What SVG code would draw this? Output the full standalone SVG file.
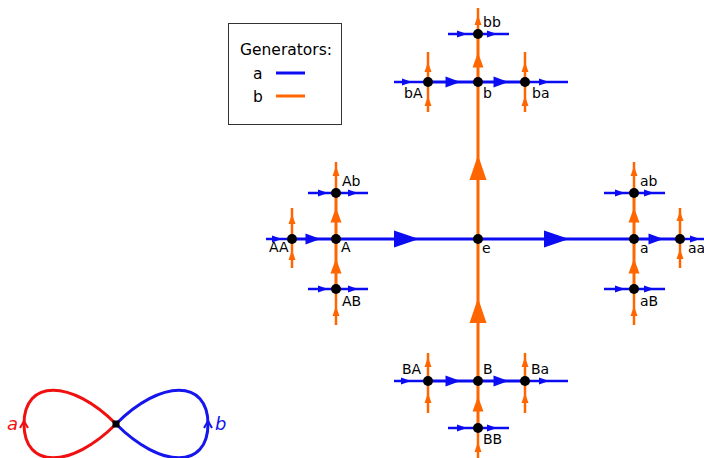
<svg xmlns="http://www.w3.org/2000/svg" xmlns:xlink="http://www.w3.org/1999/xlink" width="704" height="458" viewBox="0 0 704 458">
<style>
.bl{stroke:#0c0cf2;fill:none}
.or{stroke:#ff6600;fill:none}
.e1{stroke-width:3}
.e3{stroke-width:2.5}
.fb{fill:#0c0cf2}
.fo{fill:#ff6600}
.nd{fill:#000}
.lbl{font-family:"DejaVu Sans","Noto Sans",sans-serif;font-size:14px;fill:#000}
.leg{font-family:"DejaVu Sans","Noto Sans",sans-serif;font-size:15.5px;fill:#000}
.it{font-family:"DejaVu Sans","Noto Sans",sans-serif;font-size:18px;font-style:italic}
</style>
<defs>
<path id="LR" class="fb" d="M-12,-8.5 L13,0 L-12,8.5 Z"/>
<path id="LU" class="fo" d="M-8.5,12 L0,-13 L8.5,12 Z"/>
<path id="MR" class="fb" d="M-7.5,-5.5 L7.5,0 L-7.5,5.5 Z"/>
<path id="MU" class="fo" d="M-5.5,7.5 L0,-7.5 L5.5,7.5 Z"/>
<path id="SR" class="fb" d="M-5,-3.5 L5,0 L-5,3.5 Z"/>
<path id="SU" class="fo" d="M-3.5,5 L0,-5 L3.5,5 Z"/>
</defs>
<rect width="704" height="458" fill="#fff"/>

<g id="legend">
<rect x="228.5" y="23.5" width="113" height="101" fill="#fff" stroke="#333" stroke-width="1"/>
<text class="leg" x="240" y="55">Generators:</text>
<text class="leg" x="253" y="79">a</text>
<text class="leg" x="253" y="102">b</text>
<line class="bl" x1="276" y1="73" x2="305" y2="73" stroke-width="3"/>
<line class="or" x1="276" y1="96" x2="305" y2="96" stroke-width="3"/>
</g>

<g id="connectors">
<line class="bl e3" x1="266" y1="239" x2="292" y2="239"/>
<line class="bl e1" x1="292" y1="239" x2="680" y2="239"/>
<line class="bl e3" x1="680" y1="239" x2="704" y2="239"/>
<line class="or e3" x1="478" y1="8" x2="478" y2="34"/>
<line class="or e1" x1="478" y1="34" x2="478" y2="428"/>
<line class="or e3" x1="478" y1="428" x2="478" y2="458"/>
<line class="or e1" x1="336" y1="193" x2="336" y2="289"/>
<line class="or e3" x1="336" y1="162" x2="336" y2="193"/>
<line class="or e3" x1="336" y1="289" x2="336" y2="325"/>
<line class="bl e3" x1="308" y1="193" x2="368" y2="193"/>
<line class="bl e3" x1="308" y1="289" x2="368" y2="289"/>
<line class="or e3" x1="292" y1="208" x2="292" y2="268"/>
<line class="or e1" x1="634" y1="193" x2="634" y2="289"/>
<line class="or e3" x1="634" y1="162" x2="634" y2="193"/>
<line class="or e3" x1="634" y1="289" x2="634" y2="325"/>
<line class="bl e3" x1="604" y1="193" x2="665" y2="193"/>
<line class="bl e3" x1="604" y1="289" x2="665" y2="289"/>
<line class="or e3" x1="680" y1="208" x2="680" y2="268"/>
<line class="bl e1" x1="428" y1="82" x2="525" y2="82"/>
<line class="bl e3" x1="394" y1="82" x2="428" y2="82"/>
<line class="bl e3" x1="525" y1="82" x2="568" y2="82"/>
<line class="or e3" x1="428" y1="52" x2="428" y2="112"/>
<line class="or e3" x1="525" y1="52" x2="525" y2="112"/>
<line class="bl e3" x1="448" y1="34" x2="509" y2="34"/>
<line class="bl e1" x1="428" y1="381" x2="525" y2="381"/>
<line class="bl e3" x1="394" y1="381" x2="428" y2="381"/>
<line class="bl e3" x1="525" y1="381" x2="568" y2="381"/>
<line class="or e3" x1="428" y1="353" x2="428" y2="413"/>
<line class="or e3" x1="525" y1="353" x2="525" y2="413"/>
<line class="bl e3" x1="448" y1="428" x2="509" y2="428"/>

<use href="#LR" x="406" y="239"/>
<use href="#LR" x="556" y="239"/>
<use href="#LU" x="478" y="168"/>
<use href="#LU" x="478" y="311"/>
<use href="#MR" x="313" y="239"/>
<use href="#MR" x="656" y="239"/>
<use href="#MR" x="453" y="82"/>
<use href="#MR" x="501" y="82"/>
<use href="#MR" x="453" y="381"/>
<use href="#MR" x="501" y="381"/>
<use href="#MU" x="336" y="215"/>
<use href="#MU" x="336" y="266"/>
<use href="#MU" x="634" y="215"/>
<use href="#MU" x="634" y="266"/>
<use href="#MU" x="478" y="60"/>
<use href="#MU" x="478" y="404"/>
<use href="#SR" x="277" y="239"/>
<use href="#SR" x="695" y="239"/>
<use href="#SR" x="323" y="193"/>
<use href="#SR" x="353" y="193"/>
<use href="#SR" x="620" y="193"/>
<use href="#SR" x="649" y="193"/>
<use href="#SR" x="323" y="289"/>
<use href="#SR" x="353" y="289"/>
<use href="#SR" x="620" y="289"/>
<use href="#SR" x="649" y="289"/>
<use href="#SR" x="462" y="34"/>
<use href="#SR" x="492" y="34"/>
<use href="#SR" x="462" y="428"/>
<use href="#SR" x="492" y="428"/>
<use href="#SR" x="407" y="82"/>
<use href="#SR" x="544" y="82"/>
<use href="#SR" x="406" y="381"/>
<use href="#SR" x="544" y="381"/>
<use href="#SU" x="292" y="219"/>
<use href="#SU" x="292" y="255"/>
<use href="#SU" x="680" y="216"/>
<use href="#SU" x="680" y="254"/>
<use href="#SU" x="336" y="171"/>
<use href="#SU" x="336" y="311"/>
<use href="#SU" x="634" y="171"/>
<use href="#SU" x="634" y="311"/>
<use href="#SU" x="478" y="20"/>
<use href="#SU" x="478" y="447"/>
<use href="#SU" x="428" y="67"/>
<use href="#SU" x="428" y="101"/>
<use href="#SU" x="525" y="67"/>
<use href="#SU" x="525" y="101"/>
<use href="#SU" x="428" y="362"/>
<use href="#SU" x="428" y="398"/>
<use href="#SU" x="525" y="362"/>
<use href="#SU" x="525" y="398"/>
</g>

<g id="node-e"><circle class="nd" cx="478" cy="239" r="5"/><text class="lbl" x="482" y="253">e</text></g>
<g id="node-a"><circle class="nd" cx="634" cy="239" r="5"/><text class="lbl" x="640" y="253">a</text></g>
<g id="node-A"><circle class="nd" cx="336" cy="239" r="5"/><text class="lbl" x="341" y="252">A</text></g>
<g id="node-b"><circle class="nd" cx="478" cy="82" r="5"/><text class="lbl" x="483" y="98">b</text></g>
<g id="node-B"><circle class="nd" cx="478" cy="381" r="5"/><text class="lbl" x="483" y="374">B</text></g>
<g id="node-aa"><circle class="nd" cx="680" cy="239" r="5"/><text class="lbl" x="688" y="253">aa</text></g>
<g id="node-ab"><circle class="nd" cx="634" cy="193" r="5"/><text class="lbl" x="640" y="186">ab</text></g>
<g id="node-aB"><circle class="nd" cx="634" cy="289" r="5"/><text class="lbl" x="640" y="306">aB</text></g>
<g id="node-AA"><circle class="nd" cx="292" cy="239" r="5"/><text class="lbl" x="269" y="252">AA</text></g>
<g id="node-Ab"><circle class="nd" cx="336" cy="193" r="5"/><text class="lbl" x="342" y="186">Ab</text></g>
<g id="node-AB"><circle class="nd" cx="336" cy="289" r="5"/><text class="lbl" x="342" y="306">AB</text></g>
<g id="node-bb"><circle class="nd" cx="478" cy="34" r="5"/><text class="lbl" x="483" y="27">bb</text></g>
<g id="node-bA"><circle class="nd" cx="428" cy="82" r="5"/><text class="lbl" x="404" y="98">bA</text></g>
<g id="node-ba"><circle class="nd" cx="525" cy="82" r="5"/><text class="lbl" x="532" y="98">ba</text></g>
<g id="node-BB"><circle class="nd" cx="478" cy="428" r="5"/><text class="lbl" x="483" y="444">BB</text></g>
<g id="node-BA"><circle class="nd" cx="428" cy="381" r="5"/><text class="lbl" x="402" y="374">BA</text></g>
<g id="node-Ba"><circle class="nd" cx="525" cy="381" r="5"/><text class="lbl" x="531" y="374">Ba</text></g>

<g id="rose">
<path d="M116,424 C71,379 24,379 24,424 C24,469 71,469 116,424" fill="none" stroke="#f01010" stroke-width="3"/>
<path d="M20,428 L24,421 L28,428" fill="none" stroke="#f01010" stroke-width="2"/>
<path d="M116,424 C161,379 208,379 208,424 C208,469 161,469 116,424" fill="none" stroke="#1515ee" stroke-width="3"/>
<path d="M204,428 L208,421 L212,428" fill="none" stroke="#1515ee" stroke-width="2"/>
<rect x="112.5" y="420.5" width="7" height="7" fill="#000"/>
<text class="it" x="7" y="430" fill="#f01010">a</text>
<text class="it" x="215" y="430" fill="#1515ee">b</text>
</g>
</svg>
